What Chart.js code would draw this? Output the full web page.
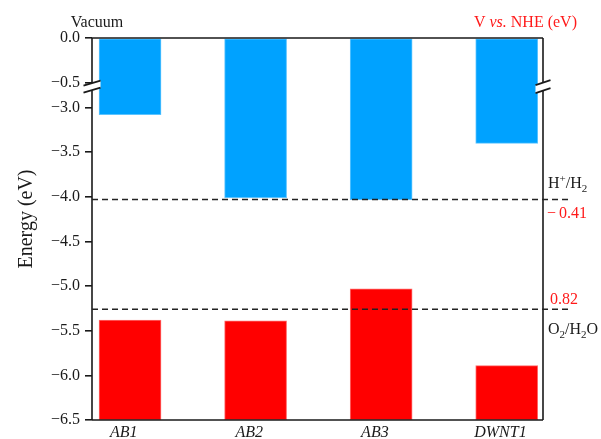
<!DOCTYPE html>
<html>
<head>
<meta charset="utf-8">
<script src="https://cdn.jsdelivr.net/npm/chart.js@4/dist/chart.umd.min.js"></script>
<style>
  html, body { margin: 0; padding: 0; background: #fff; }
  canvas { display: block; }
</style>
</head>
<body>
<canvas id="c" width="601" height="439"></canvas>
<script>
// Band edges (eV vs. vacuum) of each dye
const categories = ['AB1', 'AB2', 'AB3', 'DWNT1'];
const lumo = [-3.08, -4.01, -4.03, -3.40];
const homo = [-5.38, -5.39, -5.03, -5.89];

// Energy axis ticks and redox potentials (V vs. NHE)
const yTickValues = [0.0, -0.5, -3.0, -3.5, -4.0, -4.5, -5.0, -5.5, -6.0, -6.5];
const nhePotentials = [-0.41, 0.82];
const nheCouples = ['H+/H2', 'O2/H2O'];
const NHE_VS_VACUUM = -4.44;

const Y_MIN = -6.5;
const SERIF = '"Liberation Serif", "DejaVu Serif", serif';

// Broken energy axis: the range between -0.5 and -3.0 eV is squeezed into a short gap
const BREAK_HI = -0.5, BREAK_LO = -3.0, GAP = 0.28;
const toAxis = v => v >= BREAK_HI ? v : v + (BREAK_HI - BREAK_LO) - GAP;
const fromAxis = d => d >= BREAK_HI - 1e-9 ? d : d - (BREAK_HI - BREAK_LO) + GAP;
const fmt = v => Math.abs(v) < 1e-9 ? '0.0' : (v < 0 ? '\u2212' : '') + Math.abs(v).toFixed(1);

const lumoData = categories.map((c, i) => ({ x: i + 1, y: [toAxis(0), toAxis(lumo[i])] }));
const homoData = categories.map((c, i) => ({ x: i + 1, y: [toAxis(Y_MIN), toAxis(homo[i])] }));

const frame = {
  id: 'frame',
  afterDraw(chart) {
    const { ctx, chartArea: a, scales: { y } } = chart;
    const ink = '#1a1a1a';
    const yp = v => y.getPixelForValue(toAxis(v));
    const yBreak = yp(BREAK_HI) + 4;

    ctx.save();
    ctx.strokeStyle = ink;
    ctx.lineWidth = 1.6;
    ctx.setLineDash([]);

    // top and bottom edges
    ctx.beginPath();
    ctx.moveTo(a.left, a.top); ctx.lineTo(a.right, a.top);
    ctx.moveTo(a.left, a.bottom); ctx.lineTo(a.right, a.bottom);
    ctx.stroke();

    // vertical axes with break slashes
    const drawAxis = (x, sep, half) => {
      const up = yBreak - sep / 2, lo = yBreak + sep / 2;
      ctx.beginPath();
      ctx.moveTo(x, a.top); ctx.lineTo(x, up);
      ctx.moveTo(x, lo); ctx.lineTo(x, a.bottom);
      ctx.stroke();
      // white band between the slashes
      ctx.fillStyle = '#fff';
      ctx.beginPath();
      ctx.moveTo(x - half, up + 2.5); ctx.lineTo(x + half, up - 2.5);
      ctx.lineTo(x + half, lo - 2.5); ctx.lineTo(x - half, lo + 2.5);
      ctx.closePath();
      ctx.fill();
      ctx.beginPath();
      ctx.moveTo(x - half, up + 2.5); ctx.lineTo(x + half, up - 2.5);
      ctx.moveTo(x - half, lo + 2.5); ctx.lineTo(x + half, lo - 2.5);
      ctx.stroke();
    };
    drawAxis(a.left, 7, 8.5);
    drawAxis(a.right, 8, 7.5);

    // redox levels
    ctx.lineWidth = 1.5;
    ctx.setLineDash([6, 4]);
    ctx.strokeStyle = '#222';
    const levelY = nhePotentials.map(p => yp(NHE_VS_VACUUM - p));
    levelY.forEach(py => {
      ctx.beginPath();
      ctx.moveTo(a.left, py); ctx.lineTo(570, py);
      ctx.stroke();
    });
    ctx.setLineDash([]);

    // texts
    ctx.textBaseline = 'alphabetic';
    ctx.textAlign = 'left';
    const font = (size, italic) => (italic ? 'italic ' : '') + size + 'px ' + SERIF;

    ctx.fillStyle = '#1a1a1a';
    ctx.font = font(16);
    ctx.textAlign = 'center';
    ctx.fillText('Vacuum', 97, 27);

    // right header, "vs." in italics
    ctx.textAlign = 'left';
    ctx.fillStyle = '#ff1a1a';
    const parts = [['V ', false], ['vs.', true], [' NHE (eV)', false]];
    let total = 0;
    parts.forEach(([t, it]) => { ctx.font = font(16, it); total += ctx.measureText(t).width; });
    let x = 577 - total;
    parts.forEach(([t, it]) => { ctx.font = font(16, it); ctx.fillText(t, x, 27); x += ctx.measureText(t).width; });

    // axis title
    ctx.save();
    ctx.translate(25, 219);
    ctx.rotate(-Math.PI / 2);
    ctx.textAlign = 'center';
    ctx.fillStyle = '#1a1a1a';
    ctx.font = font(20);
    ctx.fillText('Energy (eV)', 0, 7);
    ctx.restore();

    // couple labels with sub/superscripts
    const rich = (segs, x0, base) => {
      let cx = x0;
      segs.forEach(([t, kind]) => {
        const size = kind ? 11 : 16;
        const dy = kind === 'sup' ? -6 : kind === 'sub' ? 4 : 0;
        ctx.font = font(size);
        ctx.fillText(t, cx, base + dy);
        cx += ctx.measureText(t).width;
      });
    };
    ctx.fillStyle = '#1a1a1a';
    rich([['H'], ['+', 'sup'], ['/H'], ['2', 'sub']], 548, levelY[0] - 12);
    rich([['O'], ['2', 'sub'], ['/H'], ['2', 'sub'], ['O']], 548, levelY[1] + 25);

    ctx.fillStyle = '#ff1a1a';
    ctx.font = font(16);
    ctx.fillText('\u2212', 547, levelY[0] + 18);
    ctx.fillText(Math.abs(nhePotentials[0]).toFixed(2), 559, levelY[0] + 18);
    ctx.fillText(nhePotentials[1].toFixed(2), 550, levelY[1] - 5);

    ctx.restore();
  }
};

new Chart(document.getElementById('c'), {
  type: 'bar',
  data: {
    datasets: [
      { label: 'LUMO', data: lumoData, backgroundColor: '#00a2ff', borderColor: '#5cc4ff',
        borderWidth: 1, borderSkipped: false, grouped: false, barThickness: 62 },
      { label: 'HOMO', data: homoData, backgroundColor: '#ff0000', borderColor: '#ff6a6a',
        borderWidth: 1, borderSkipped: false, grouped: false, barThickness: 62 }
    ]
  },
  options: {
    responsive: false,
    devicePixelRatio: 1,
    animation: false,
    layout: { padding: { left: 0, right: 58, top: 38, bottom: 0 } },
    plugins: { legend: { display: false }, tooltip: { enabled: false } },
    scales: {
      x: {
        type: 'linear',
        offset: false,
        min: 0.697,
        max: 4.289,
        grid: { display: false, drawTicks: false, offset: false },
        border: { display: false },
        afterBuildTicks: s => { s.ticks = categories.map((c, i) => ({ value: i + 1 - 0.05 })); },
        afterFit: s => { s.height = 19; },
        ticks: {
          autoSkip: false,
          maxRotation: 0,
          padding: 3,
          color: '#1a1a1a',
          font: { family: SERIF, size: 16, style: 'italic' },
          callback: (v, i) => categories[i]
        }
      },
      y: {
        type: 'linear',
        min: toAxis(Y_MIN),
        max: 0,
        grid: { drawOnChartArea: false, drawTicks: true, tickLength: 7, color: '#1a1a1a', lineWidth: 1.6 },
        border: { display: false },
        afterBuildTicks: s => { s.ticks = yTickValues.map(v => ({ value: toAxis(v) })); },
        afterFit: s => { s.width = 92; },
        ticks: {
          autoSkip: false,
          padding: 5,
          color: '#1a1a1a',
          font: { family: SERIF, size: 16 },
          callback: v => fmt(fromAxis(v))
        }
      }
    }
  },
  plugins: [frame]
});
</script>
</body>
</html>
